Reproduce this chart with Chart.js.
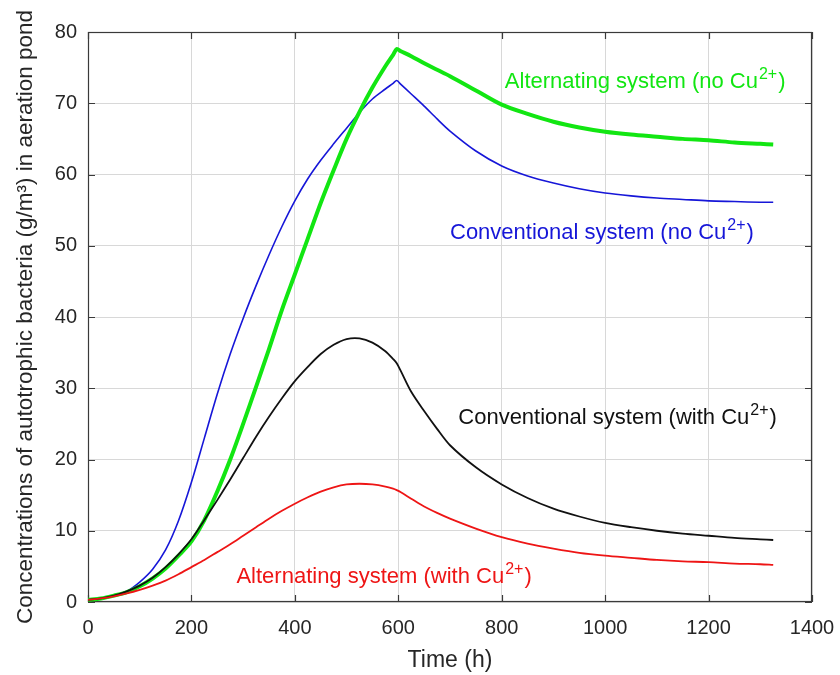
<!DOCTYPE html>
<html><head><meta charset="utf-8">
<script src="https://cdn.jsdelivr.net/npm/chart.js@4.4.1/dist/chart.umd.min.js"></script>
<style>html,body{margin:0;padding:0;background:#fff}</style>
</head><body>
<canvas id="c" width="840" height="675"></canvas>
<script>
// Time (h)
const times = [0,25,50,75,100,125,150,175,200,225,250,275,300,325,350,375,400,425,450,475,500,525,550,575,590,597,605,625,650,675,700,750,800,850,900,950,1000,1050,1100,1150,1200,1250,1300,1325];
// Conventional system (no Cu2+)
const conventionalNoCu = [0.3,0.5,0.9,1.5,2.8,4.6,7.3,11.4,16.8,23.0,29.2,34.8,39.8,44.4,48.7,52.7,56.3,59.4,62.0,64.3,66.5,68.7,70.6,72.0,72.8,73.2,72.65,71.3,69.6,67.8,66.1,63.3,61.2,59.8,58.8,58.0,57.4,57.0,56.7,56.5,56.3,56.2,56.1,56.1];
// Alternating system (no Cu2+)
const alternatingNoCu = [0.3,0.5,0.9,1.4,2.2,3.3,4.7,6.5,8.5,11.5,15.5,20.0,25.0,30.2,35.5,41.0,46.0,51.0,56.0,60.6,65.0,68.8,72.2,75.2,76.8,77.6,77.3,76.6,75.6,74.7,73.8,71.8,69.8,68.5,67.4,66.6,66.0,65.6,65.3,65.0,64.8,64.5,64.3,64.2];
// Conventional system (with Cu2+)
const conventionalCu = [0.3,0.5,0.9,1.5,2.3,3.4,4.9,6.7,8.8,11.5,14.3,17.2,20.2,23.2,26.0,28.6,31.0,33.0,34.8,36.1,36.9,37.0,36.4,35.2,34.1,33.5,32.4,29.5,26.8,24.3,22.0,18.9,16.5,14.6,13.1,12.0,11.1,10.5,10.0,9.6,9.3,9.0,8.8,8.7];
// Alternating system (with Cu2+)
const alternatingCu = [0.3,0.5,0.8,1.2,1.7,2.3,3.0,3.9,4.9,5.9,7.0,8.1,9.3,10.5,11.7,12.8,13.8,14.7,15.5,16.1,16.5,16.6,16.5,16.2,15.9,15.7,15.4,14.5,13.4,12.5,11.7,10.3,9.1,8.2,7.5,6.9,6.5,6.2,5.9,5.7,5.6,5.4,5.3,5.2];

const curveLabels = ['Alternating system (no Cu', 'Conventional system (no Cu', 'Conventional system (with Cu', 'Alternating system (with Cu'];
const ionCharge = '2+';
const xTitle = 'Time (h)';
const yTitle = 'Concentrations of autotrophic bacteria (g/m\u00B3) in aeration pond';

const FONT = '"Liberation Sans", Arial, Helvetica, sans-serif';
const GREEN = '#12e612', BLUE = '#1616d8', BLACK = '#111111', RED = '#ee1515';

const pts = arr => times.map((t, i) => ({x: t, y: arr[i]}));

const framePlugin = {
  id: 'frame',
  beforeDatasetsDraw(chart) {
    const {ctx, chartArea: a, scales: {x, y}} = chart;
    ctx.save();
    ctx.strokeStyle = '#3a3a3a';
    ctx.lineWidth = 1.2;
    const L = 7;
    ctx.beginPath();
    x.ticks.forEach(tk => {
      const p = Math.round(x.getPixelForValue(tk.value)) + 0.5;
      ctx.moveTo(p, a.bottom); ctx.lineTo(p, a.bottom - L);
      ctx.moveTo(p, a.top); ctx.lineTo(p, a.top + L);
    });
    y.ticks.forEach(tk => {
      const p = Math.round(y.getPixelForValue(tk.value)) + 0.5;
      ctx.moveTo(a.left, p); ctx.lineTo(a.left + L, p);
      ctx.moveTo(a.right, p); ctx.lineTo(a.right - L, p);
    });
    ctx.stroke();
    ctx.strokeRect(a.left + 0.5, a.top + 0.5, a.right - a.left - 1, a.bottom - a.top - 1);
    ctx.restore();
  }
};

const labelPlugin = {
  id: 'curveText',
  afterDatasetsDraw(chart, args, opts) {
    const {ctx, scales: {x, y}} = chart;
    opts.items.forEach(it => {
      let px = x.getPixelForValue(it.t);
      const py = y.getPixelForValue(it.v);
      ctx.save();
      ctx.fillStyle = it.color;
      ctx.textAlign = 'left';
      ctx.textBaseline = 'alphabetic';
      ctx.font = '22px ' + FONT;
      ctx.fillText(it.text, px, py);
      px += ctx.measureText(it.text).width + 1;
      ctx.font = '16px ' + FONT;
      ctx.fillText(ionCharge, px, py - 9);
      px += ctx.measureText(ionCharge).width + 1;
      ctx.font = '22px ' + FONT;
      ctx.fillText(')', px, py);
      ctx.restore();
    });
  }
};

new Chart(document.getElementById('c'), {
  type: 'line',
  data: {
    datasets: [
      {data: pts(alternatingCu), borderColor: RED, borderWidth: 1.8},
      {data: pts(conventionalCu), borderColor: BLACK, borderWidth: 1.8},
      {data: pts(alternatingNoCu), borderColor: GREEN, borderWidth: 4},
      {data: pts(conventionalNoCu), borderColor: BLUE, borderWidth: 1.6}
    ]
  },
  options: {
    responsive: false,
    animation: false,
    events: [],
    layout: {padding: {left: 0, right: 28, top: 32, bottom: 0}},
    elements: {point: {radius: 0}, line: {tension: 0.3, fill: false, borderJoinStyle: 'round'}},
    plugins: {
      legend: {display: false},
      tooltip: {enabled: false},
      curveText: {items: [
        {text: curveLabels[0], color: GREEN, t: 806, v: 72.2},
        {text: curveLabels[1], color: BLUE, t: 700, v: 50.9},
        {text: curveLabels[2], color: BLACK, t: 716, v: 25.0},
        {text: curveLabels[3], color: RED, t: 287, v: 2.6}
      ]}
    },
    scales: {
      x: {
        type: 'linear', min: 0, max: 1400,
        ticks: {stepSize: 200, padding: 14, color: '#262626', font: {family: FONT, size: 20}, callback: v => String(v)},
        grid: {color: '#d8d8d8', lineWidth: 1, drawTicks: false},
        border: {display: false},
        title: {display: true, text: xTitle, color: '#262626', font: {family: FONT, size: 23}, padding: {top: 0, bottom: 1}},
        afterFit: s => { s.height = 73; s.paddingLeft = 0; s.paddingRight = 0; }
      },
      y: {
        type: 'linear', min: 0, max: 80,
        ticks: {stepSize: 10, padding: 11, color: '#262626', font: {family: FONT, size: 20}, callback: v => String(v)},
        grid: {color: '#d8d8d8', lineWidth: 1, drawTicks: false},
        border: {display: false},
        title: {display: true, text: yTitle, color: '#262626', font: {family: FONT, size: 22.5}, padding: {top: 12, bottom: 0}},
        afterFit: s => { s.width = 88; s.paddingTop = 0; s.paddingBottom = 0; }
      }
    }
  },
  plugins: [framePlugin, labelPlugin]
});
</script>
</body></html>
